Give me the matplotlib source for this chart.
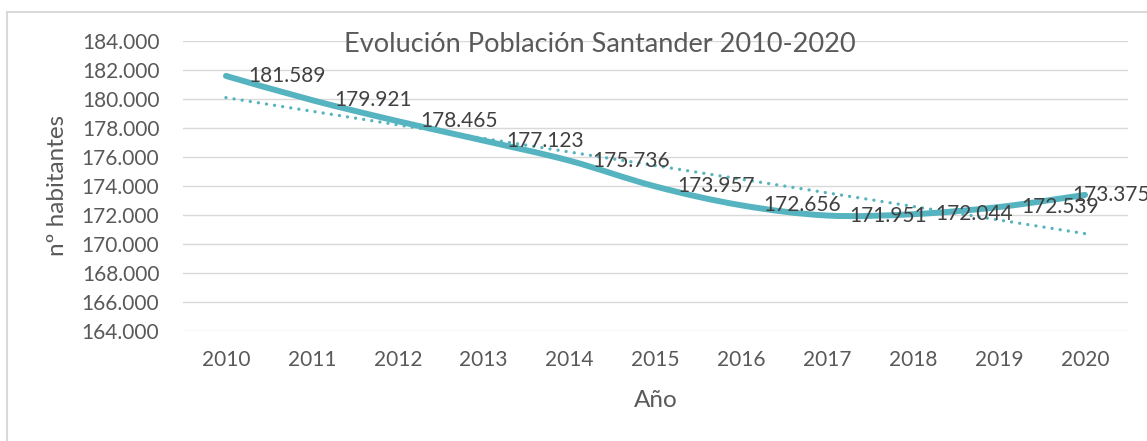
import numpy as np
import matplotlib.pyplot as plt
from matplotlib.path import Path
from matplotlib.patches import PathPatch, Rectangle

# Datos
anios = ['2010', '2011', '2012', '2013', '2014', '2015', '2016', '2017', '2018', '2019', '2020']
poblacion = [181589, 179921, 178465, 177123, 175736, 173957, 172656, 171951, 172044, 172539, 173375]
y_ticks = [164000, 166000, 168000, 170000, 172000, 174000, 176000, 178000, 180000, 182000, 184000]

color = '#56B4C0'
gris = '#595959'

plt.rcParams['font.family'] = ['Lato', 'DejaVu Sans']


def fmt(v):
    return f"{v:,.0f}".replace(',', '.')


fig = plt.figure(figsize=(11.47, 4.41), dpi=100)
ax = fig.add_axes([183 / 1147, 1 - 330.7 / 441, (1128 - 183) / 1147, (330.7 - 41) / 441])

x = np.arange(len(anios))
y = np.array(poblacion, dtype=float)
n = len(x)

# Linea suavizada (Bezier tipo Excel)
pts = np.column_stack([x, y])
verts = [pts[0]]
codes = [Path.MOVETO]
for i in range(n - 1):
    p0 = pts[max(i - 1, 0)]
    p1 = pts[i]
    p2 = pts[i + 1]
    p3 = pts[min(i + 2, n - 1)]
    c1 = p1 + (p2 - p0) / 6
    c2 = p2 - (p3 - p1) / 6
    verts += [c1, c2, p2]
    codes += [Path.CURVE4] * 3
ax.add_patch(PathPatch(Path(verts, codes), facecolor='none', edgecolor=color,
                       lw=4.3, capstyle='round', joinstyle='round', zorder=3))

# Linea de tendencia lineal
m, b = np.polyfit(x, y, 1)
ax.plot([x[0], x[-1]], [m * x[0] + b, m * x[-1] + b], color=color, lw=2.4,
        linestyle=(0, (0.01, 2.45)), dash_capstyle='round', zorder=2)

# Etiquetas de datos
for i, v in enumerate(poblacion):
    dx = 16 if i < n - 1 else -9
    ax.annotate(fmt(v), (x[i], v), xytext=(dx, 0), textcoords='offset points',
                ha='left', va='center', fontsize=15, color='#404040',
                annotation_clip=False, zorder=4)

ax.set_xlim(-0.5, n - 0.5)
ax.set_ylim(164000, 184000)
ax.set_yticks(y_ticks)
ax.set_yticklabels([fmt(t) for t in y_ticks])
ax.set_xticks(x)
ax.set_xticklabels(anios)
ax.tick_params(length=0, labelsize=15, labelcolor=gris)
ax.tick_params(axis='y', pad=17)
ax.tick_params(axis='x', pad=14)
ax.grid(axis='y', color='#D9D9D9', lw=1)
ax.set_axisbelow(True)
for s in ax.spines.values():
    s.set_visible(False)

ax.set_xlabel('Año', fontsize=17.5, color=gris, labelpad=14)
ax.set_ylabel('nº habitantes', fontsize=17.5, color=gris, labelpad=10)

fig.text(600 / 1147, 1 - 45 / 441, 'Evolución Población Santander 2010-2020',
         ha='center', va='center', fontsize=19.5, color=gris)

# Borde del grafico
fig.patches.append(Rectangle((7.5 / 1147, -0.1), 1.2, 1.1 - 12 / 441,
                             transform=fig.transFigure, fill=False,
                             edgecolor='#D9D9D9', lw=1.5))

fig.savefig('out.png', dpi=100)
